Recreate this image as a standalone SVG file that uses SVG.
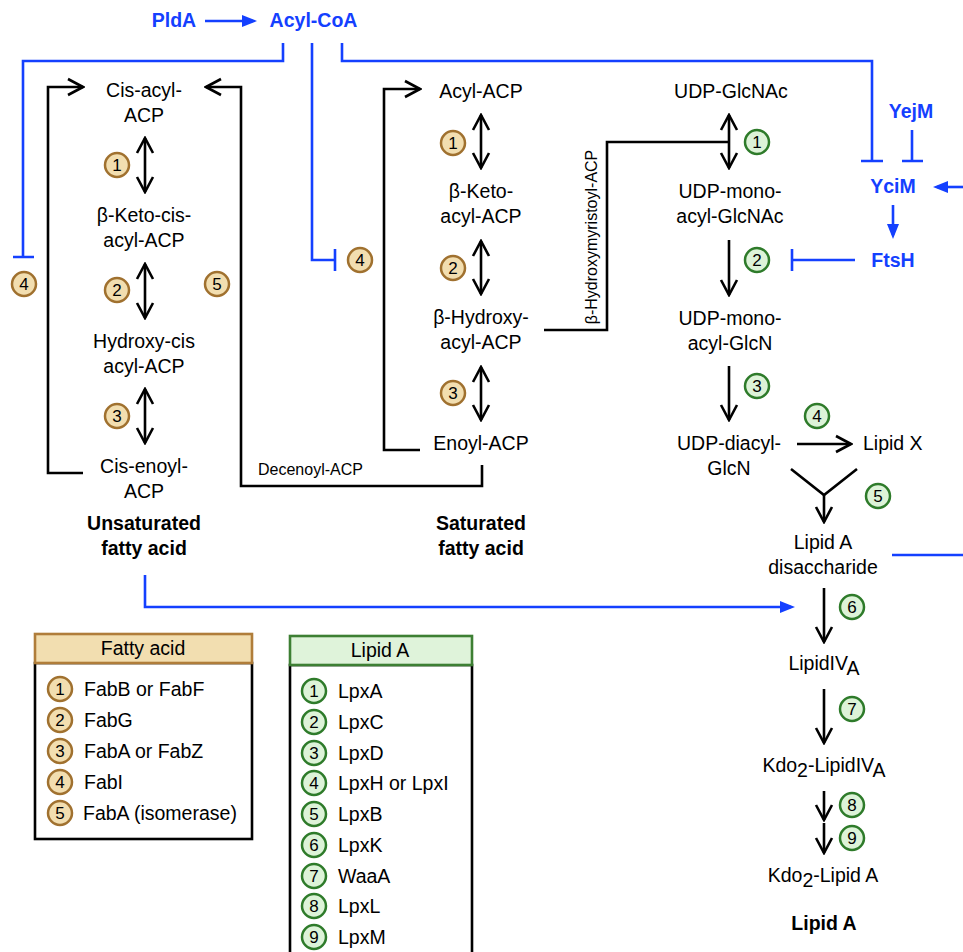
<svg xmlns="http://www.w3.org/2000/svg" width="963" height="952" viewBox="0 0 963 952">
<style>
text{font-family:"Liberation Sans",Arial,Helvetica,sans-serif;font-size:19.5px;fill:#000}
.c{text-anchor:middle}
.b{font-weight:bold}
.bl{fill:#1440ff}
.sm{font-size:16px}
.num{font-size:17px;text-anchor:middle}
.k{stroke:#000;stroke-width:2.6;fill:none}
.u{stroke:#1440ff;stroke-width:2.6;fill:none}
.fa circle{fill:#f2deb0;stroke:#a0712f;stroke-width:2.5}
.la circle{fill:#ddf3d8;stroke:#2e7b2a;stroke-width:2.5}
</style>
<defs>
<marker id="oa" viewBox="-17 -10 19 20" markerWidth="19" markerHeight="20" refX="0" refY="0" orient="auto-start-reverse" markerUnits="userSpaceOnUse">
<path d="M-15,-8 L0,0 L-15,8" fill="none" stroke="#000" stroke-width="2.6"/>
</marker>
<marker id="fb" viewBox="-13 -8 19 16" markerWidth="19" markerHeight="16" refX="0" refY="0" orient="auto" markerUnits="userSpaceOnUse">
<path d="M-11,-6 L4,0 L-11,6 Z" fill="#1440ff"/>
</marker>
</defs>
<rect width="963" height="952" fill="#fff"/>

<g id="connectors">
<path class="k" d="M83,87 H48 V473 H83" marker-start="url(#oa)"/>
<path class="k" d="M206,87 H241 V486 H482 V465" marker-start="url(#oa)"/>
<path class="k" d="M420,89 H384 V450 H420" marker-start="url(#oa)"/>
<path class="k" d="M145,138 V192" marker-start="url(#oa)" marker-end="url(#oa)"/>
<path class="k" d="M145,264 V318" marker-start="url(#oa)" marker-end="url(#oa)"/>
<path class="k" d="M145,389 V443" marker-start="url(#oa)" marker-end="url(#oa)"/>
<path class="k" d="M481,115 V168" marker-start="url(#oa)" marker-end="url(#oa)"/>
<path class="k" d="M481,241 V294" marker-start="url(#oa)" marker-end="url(#oa)"/>
<path class="k" d="M481,367 V420" marker-start="url(#oa)" marker-end="url(#oa)"/>
<path class="k" d="M544,330 H607 V142 H728"/>
<path class="k" d="M729,115 V168" marker-start="url(#oa)" marker-end="url(#oa)"/>
<path class="k" d="M729,240 V295" marker-end="url(#oa)"/>
<path class="k" d="M729,366 V420" marker-end="url(#oa)"/>
<path class="k" d="M797,444 H851" marker-end="url(#oa)"/>
<path class="k" d="M791,469 L824,495 L857,469"/>
<path class="k" d="M824,495 V522" marker-end="url(#oa)"/>
<path class="k" d="M824,588 V642" marker-end="url(#oa)"/>
<path class="k" d="M824,689 V743" marker-end="url(#oa)"/>
<path class="k" d="M824,791 V820" marker-end="url(#oa)"/>
<path class="k" d="M824,823 V853" marker-end="url(#oa)"/>

<path class="u" d="M205,21 H253" marker-end="url(#fb)"/>
<path class="u" d="M283,43 V61 H23 V257 M13,257 H34"/>
<path class="u" d="M312,43 V260 H335 M335,249 V271"/>
<path class="u" d="M342,43 V61 H872 V161 M861,161 H883"/>
<path class="u" d="M912,130 V161 M902,161 H923"/>
<path class="u" d="M963,187 H937" marker-end="url(#fb)"/>
<path class="u" d="M893,205 V235" marker-end="url(#fb)"/>
<path class="u" d="M855,260 H792 M792,249 V271"/>
<path class="u" d="M892,555 H963"/>
<path class="u" d="M145,575 V607 H791" marker-end="url(#fb)"/>
</g>

<g id="regulators">
<g id="PldA"><text class="c b bl" x="174" y="27">PldA</text></g>
<g id="AcylCoA"><text class="c b bl" x="313.5" y="27">Acyl-CoA</text></g>
<g id="YejM"><text class="c b bl" x="911" y="118">YejM</text></g>
<g id="YciM"><text class="c b bl" x="893" y="193">YciM</text></g>
<g id="FtsH"><text class="c b bl" x="893" y="267">FtsH</text></g>
</g>

<g id="unsaturated">
<g id="cis-acyl-ACP"><text class="c" x="144" y="97">Cis-acyl-</text><text class="c" x="144" y="122">ACP</text></g>
<g id="b-keto-cis"><text class="c" x="144" y="222">β-Keto-cis-</text><text class="c" x="144" y="247">acyl-ACP</text></g>
<g id="hydroxy-cis"><text class="c" x="144" y="348">Hydroxy-cis</text><text class="c" x="144" y="373">acyl-ACP</text></g>
<g id="cis-enoyl"><text class="c" x="144" y="473">Cis-enoyl-</text><text class="c" x="144" y="498">ACP</text></g>
<g id="unsat-title"><text class="c b" x="144" y="530">Unsaturated</text><text class="c b" x="144" y="555">fatty acid</text></g>
<g id="decenoyl"><text class="sm" x="258" y="475">Decenoyl-ACP</text></g>
</g>

<g id="saturated">
<g id="acyl-ACP"><text class="c" x="481" y="98">Acyl-ACP</text></g>
<g id="b-keto"><text class="c" x="481" y="198">β-Keto-</text><text class="c" x="481" y="223">acyl-ACP</text></g>
<g id="b-hydroxy"><text class="c" x="481" y="324">β-Hydroxy-</text><text class="c" x="481" y="349">acyl-ACP</text></g>
<g id="enoyl"><text class="c" x="481" y="450">Enoyl-ACP</text></g>
<g id="sat-title"><text class="c b" x="481" y="530">Saturated</text><text class="c b" x="481" y="555">fatty acid</text></g>
<g id="b-hydroxymyristoyl"><text class="c sm" transform="translate(597,237) rotate(-90)">β-Hydroxymyristoyl-ACP</text></g>
</g>

<g id="lipidA-path">
<g id="udp-glcnac"><text class="c" x="731" y="98">UDP-GlcNAc</text></g>
<g id="udp-mono-glcnac"><text class="c" x="730" y="198">UDP-mono-</text><text class="c" x="730" y="223">acyl-GlcNAc</text></g>
<g id="udp-mono-glcn"><text class="c" x="730" y="325">UDP-mono-</text><text class="c" x="730" y="350">acyl-GlcN</text></g>
<g id="udp-diacyl"><text class="c" x="729" y="450">UDP-diacyl-</text><text class="c" x="729" y="475">GlcN</text></g>
<g id="lipidX"><text x="863" y="450">Lipid X</text></g>
<g id="lipidA-disacch"><text class="c" x="823" y="549">Lipid A</text><text class="c" x="823" y="574">disaccharide</text></g>
<g id="lipidIVA"><text class="c" x="824" y="670">LipidIV<tspan dy="5">A</tspan></text></g>
<g id="kdo2-lipidIVA"><text class="c" x="824" y="772">Kdo<tspan dy="5">2</tspan><tspan dy="-5">-LipidIV</tspan><tspan dy="5">A</tspan></text></g>
<g id="kdo2-lipidA"><text class="c" x="823" y="882">Kdo<tspan dy="5">2</tspan><tspan dy="-5">-Lipid A</tspan></text></g>
<g id="lipidA-title"><text class="c b" x="824" y="930">Lipid A</text></g>
</g>

<g id="fa-markers" class="fa">
<g><circle cx="117" cy="165" r="12"/><text class="num" x="117" y="171">1</text></g>
<g><circle cx="117" cy="290" r="12"/><text class="num" x="117" y="296">2</text></g>
<g><circle cx="117" cy="416" r="12"/><text class="num" x="117" y="422">3</text></g>
<g><circle cx="24" cy="284" r="12"/><text class="num" x="24" y="290">4</text></g>
<g><circle cx="217" cy="284" r="12"/><text class="num" x="217" y="290">5</text></g>
<g><circle cx="360" cy="260" r="12"/><text class="num" x="360" y="266">4</text></g>
<g><circle cx="453" cy="143" r="12"/><text class="num" x="453" y="149">1</text></g>
<g><circle cx="453" cy="268" r="12"/><text class="num" x="453" y="274">2</text></g>
<g><circle cx="453" cy="393" r="12"/><text class="num" x="453" y="399">3</text></g>
</g>

<g id="la-markers" class="la">
<g><circle cx="757" cy="142" r="12"/><text class="num" x="757" y="148">1</text></g>
<g><circle cx="757" cy="260" r="12"/><text class="num" x="757" y="266">2</text></g>
<g><circle cx="757" cy="386" r="12"/><text class="num" x="757" y="392">3</text></g>
<g><circle cx="817" cy="416" r="12"/><text class="num" x="817" y="422">4</text></g>
<g><circle cx="878" cy="496" r="12"/><text class="num" x="878" y="502">5</text></g>
<g><circle cx="852" cy="607" r="12"/><text class="num" x="852" y="613">6</text></g>
<g><circle cx="852" cy="709" r="12"/><text class="num" x="852" y="715">7</text></g>
<g><circle cx="852" cy="805" r="12"/><text class="num" x="852" y="811">8</text></g>
<g><circle cx="852" cy="838" r="12"/><text class="num" x="852" y="844">9</text></g>
</g>

<g id="legend-fatty-acid">
<rect x="35" y="663" width="217" height="176" fill="#fff" stroke="#000" stroke-width="2.6"/>
<rect x="35" y="634" width="217" height="29" fill="#f2deb0" stroke="#b07d3a" stroke-width="2.6"/>
<text class="c" x="143" y="655">Fatty acid</text>
<g class="fa">
<circle cx="60" cy="689" r="12"/><text class="num" x="60" y="695">1</text><text x="84" y="696">FabB or FabF</text>
<circle cx="60" cy="720" r="12"/><text class="num" x="60" y="726">2</text><text x="84" y="727">FabG</text>
<circle cx="60" cy="751" r="12"/><text class="num" x="60" y="757">3</text><text x="84" y="758">FabA or FabZ</text>
<circle cx="60" cy="782" r="12"/><text class="num" x="60" y="788">4</text><text x="84" y="789">FabI</text>
<circle cx="60" cy="813" r="12"/><text class="num" x="60" y="819">5</text><text x="83" y="820">FabA (isomerase)</text>
</g>
</g>

<g id="legend-lipid-a">
<rect x="290" y="665" width="182" height="300" fill="#fff" stroke="#000" stroke-width="2.6"/>
<rect x="290" y="636" width="182" height="29" fill="#dff3da" stroke="#3d7f33" stroke-width="2.6"/>
<text class="c" x="380" y="657">Lipid A</text>
<g class="la">
<circle cx="314" cy="691" r="12"/><text class="num" x="314" y="697">1</text><text x="338" y="698">LpxA</text>
<circle cx="314" cy="722" r="12"/><text class="num" x="314" y="728">2</text><text x="338" y="729">LpxC</text>
<circle cx="314" cy="753" r="12"/><text class="num" x="314" y="759">3</text><text x="338" y="760">LpxD</text>
<circle cx="314" cy="783" r="12"/><text class="num" x="314" y="789">4</text><text x="338" y="790">LpxH or LpxI</text>
<circle cx="314" cy="814" r="12"/><text class="num" x="314" y="820">5</text><text x="338" y="821">LpxB</text>
<circle cx="314" cy="845" r="12"/><text class="num" x="314" y="851">6</text><text x="338" y="852">LpxK</text>
<circle cx="314" cy="876" r="12"/><text class="num" x="314" y="882">7</text><text x="338" y="883">WaaA</text>
<circle cx="314" cy="906" r="12"/><text class="num" x="314" y="912">8</text><text x="338" y="913">LpxL</text>
<circle cx="314" cy="937" r="12"/><text class="num" x="314" y="943">9</text><text x="338" y="944">LpxM</text>
</g>
</g>
</svg>
